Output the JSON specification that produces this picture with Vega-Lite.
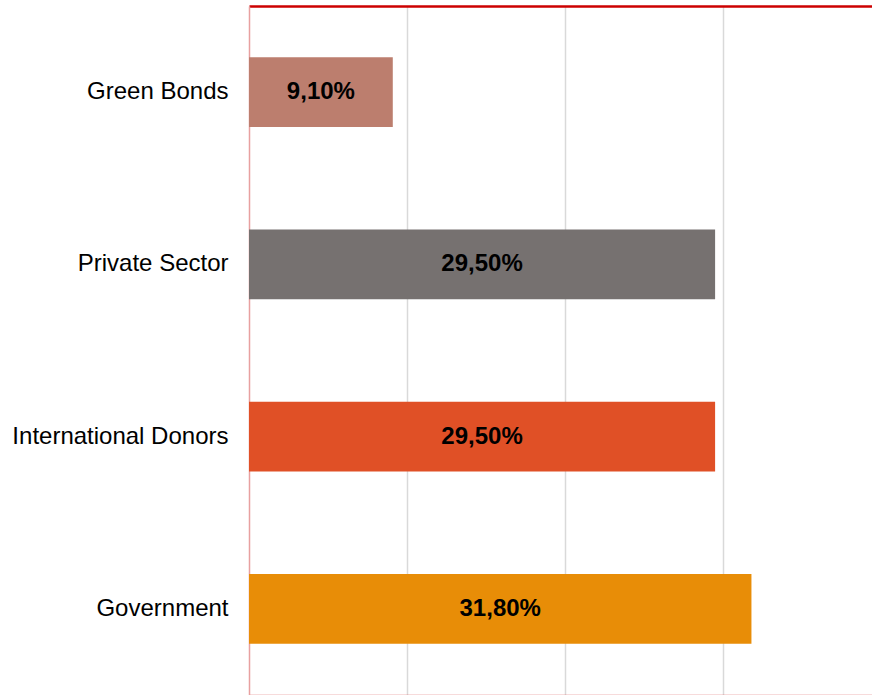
{
  "$schema": "https://vega.github.io/schema/vega-lite/v6.json",
  "autosize": "none",
  "padding": {"left": 249, "top": 6, "right": 0, "bottom": 0},
  "width": 623,
  "height": 689,
  "background": "white",
  "config": {
    "view": {"stroke": null},
    "font": "Liberation Sans"
  },
  "data": {
    "values": [
      {"source": "Green Bonds", "value": 9.1, "label": "9,10%", "color": "#BC7E6E"},
      {"source": "Private Sector", "value": 29.5, "label": "29,50%", "color": "#767170"},
      {"source": "International Donors", "value": 29.5, "label": "29,50%", "color": "#E05026"},
      {"source": "Government", "value": 31.8, "label": "31,80%", "color": "#E88D07"}
    ]
  },
  "encoding": {
    "y": {
      "field": "source",
      "type": "nominal",
      "sort": ["Green Bonds", "Private Sector", "International Donors", "Government"],
      "scale": {"paddingInner": 0.594, "paddingOuter": 0.297},
      "axis": {
        "title": null,
        "domain": true,
        "domainColor": "#e8a0a0",
        "domainWidth": 1.5,
        "ticks": false,
        "labelPadding": 21,
        "labelFontSize": 24,
        "labelColor": "#000000",
        "labelFont": "Liberation Sans",
        "labelLimit": 400
      }
    }
  },
  "resolve": {"axis": {"x": "independent"}},
  "layer": [
    {
      "mark": {"type": "bar", "cornerRadius": 0},
      "encoding": {
        "x": {
          "field": "value",
          "type": "quantitative",
          "scale": {"domain": [0, 39.43], "nice": false},
          "axis": {
            "orient": "top",
            "title": null,
            "labels": false,
            "ticks": false,
            "domain": true,
            "domainColor": "#cc0000",
            "domainWidth": 2.5,
            "grid": true,
            "gridColor": "#d9d9d9",
            "gridWidth": 1.5,
            "values": [10, 20, 30]
          }
        },
        "color": {"field": "color", "type": "nominal", "scale": null}
      }
    },
    {
      "transform": [{"calculate": "datum.value / 2", "as": "mid"}],
      "mark": {"type": "text", "fontSize": 24, "fontWeight": "bold", "color": "#000000", "font": "Liberation Sans"},
      "encoding": {
        "x": {
          "field": "mid",
          "type": "quantitative",
          "axis": {
            "orient": "bottom",
            "title": null,
            "labels": false,
            "ticks": false,
            "grid": false,
            "domain": true,
            "domainColor": "#e07070",
            "domainWidth": 1.5
          }
        },
        "text": {"field": "label"}
      }
    }
  ]
}
